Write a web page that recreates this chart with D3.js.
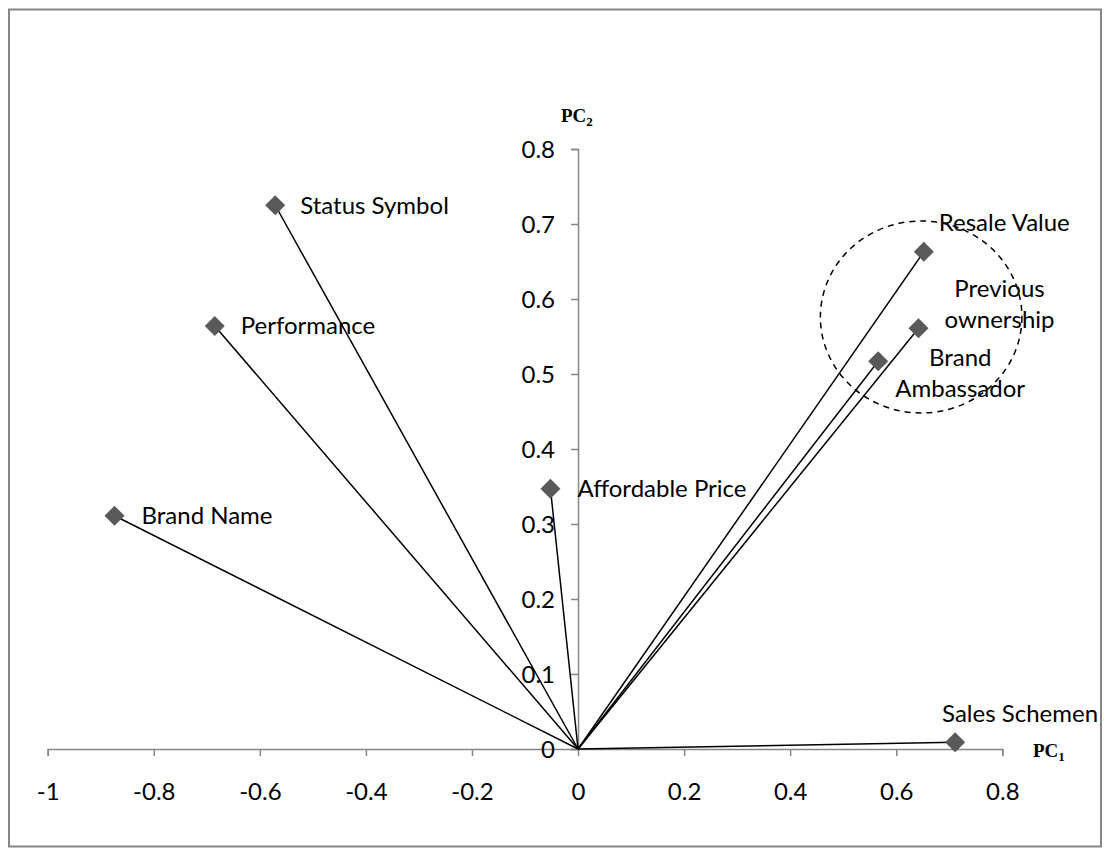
<!DOCTYPE html>
<html>
<head>
<meta charset="utf-8">
<script src="https://cdn.jsdelivr.net/npm/d3@7"></script>
<style>
  body { margin: 0; background: #fff; }
  svg text { font-family: Lato, "Open Sans", sans-serif; }
</style>
</head>
<body>
<svg id="chart" width="1109" height="856"></svg>
<script>
// Principal component loadings for each purchase factor
const variables = ["Status Symbol", "Performance", "Brand Name", "Affordable Price",
                   "Resale Value", "Previous ownership", "Brand Ambassador", "Sales Schemen"];
const pc1 = [-0.571, -0.685, -0.874, -0.052, 0.652, 0.642, 0.566, 0.711];
const pc2 = [0.725, 0.564, 0.311, 0.347, 0.663, 0.561, 0.517, 0.009];

// Axis ticks
const xTicks = [-1, -0.8, -0.6, -0.4, -0.2, 0, 0.2, 0.4, 0.6, 0.8];
const yTicks = [0, 0.1, 0.2, 0.3, 0.4, 0.5, 0.6, 0.7, 0.8];

// Cluster outline (centre and radii in loading units)
const clusterCentre = [0.647, 0.576];
const clusterRadii = [0.19, 0.128];

// Label layout: lines, anchor and pixel offset from the marker
const labelLines = [["Status Symbol"], ["Performance"], ["Brand Name"], ["Affordable Price"],
                    ["Resale Value"], ["Previous", "ownership"], ["Brand", "Ambassador"], ["Sales Schemen"]];
const labelAnchor = ["start", "start", "start", "start", "start", "middle", "middle", "start"];
const labelOffset = [[25, 0], [26, 0], [27, 0], [27, 0], [15, -29], [81, -24], [82, 12], [-13, -29]];

const svg = d3.select("#chart");
const W = 1109, H = 856;

svg.append("rect").attr("width", W).attr("height", H).attr("fill", "#fff");
svg.append("rect")
  .attr("x", 9).attr("y", 9.5).attr("width", 1092).attr("height", 837)
  .attr("fill", "none").attr("stroke", "#868686").attr("stroke-width", 2);

const x = d3.scaleLinear().domain([-1, 0.8]).range([47.7, 1002.3]);
const y = d3.scaleLinear().domain([0, 0.8]).range([749, 149]);

const fmt = d => String(+d.toFixed(1));
const axisColor = "#868686";
const fontSize = 24;

// X axis through PC2 = 0
const gx = svg.append("g").attr("transform", `translate(0,${y(0)})`)
  .call(d3.axisBottom(x).tickValues(xTicks).tickSize(7).tickSizeOuter(7).tickFormat(fmt));
gx.select(".domain").attr("stroke", axisColor).attr("stroke-width", 1.5);
gx.selectAll(".tick line").attr("stroke", axisColor).attr("stroke-width", 1.5);
gx.selectAll(".tick text").attr("y", 43).attr("dy", "0.35em")
  .attr("fill", "#000").style("font-size", fontSize + "px").style("font-family", "Lato, sans-serif");

// Y axis through PC1 = 0
const gy = svg.append("g").attr("transform", `translate(${x(0)},0)`)
  .call(d3.axisLeft(y).tickValues(yTicks).tickSize(7).tickSizeOuter(7).tickFormat(fmt));
gy.select(".domain").attr("stroke", axisColor).attr("stroke-width", 1.5);
gy.selectAll(".tick line").attr("stroke", axisColor).attr("stroke-width", 1.5);
gy.selectAll(".tick text").attr("x", -23).attr("dy", "0.35em")
  .attr("fill", "#000").style("font-size", fontSize + "px").style("font-family", "Lato, sans-serif");

const points = variables.map((v, i) => ({ name: v, x: pc1[i], y: pc2[i], i }));

// Loading vectors from the origin
svg.append("g").selectAll("line").data(points).join("line")
  .attr("x1", x(0)).attr("y1", y(0))
  .attr("x2", d => x(d.x)).attr("y2", d => y(d.y))
  .attr("stroke", "#000").attr("stroke-width", 1.5);

// Dashed outline around the resale / ownership / ambassador group
svg.append("ellipse")
  .attr("cx", x(clusterCentre[0])).attr("cy", y(clusterCentre[1]))
  .attr("rx", x(clusterRadii[0]) - x(0)).attr("ry", y(0) - y(clusterRadii[1]))
  .attr("fill", "none").attr("stroke", "#000").attr("stroke-width", 1.5)
  .attr("stroke-dasharray", "6,5");

// Diamond markers
svg.append("g").selectAll("path").data(points).join("path")
  .attr("d", d3.symbol(d3.symbolSquare, 200))
  .attr("transform", d => `translate(${x(d.x)},${y(d.y)}) rotate(45)`)
  .attr("fill", "#595959");

// Point labels
const labels = svg.append("g").selectAll("text").data(points).join("text")
  .attr("x", d => x(d.x) + labelOffset[d.i][0])
  .attr("y", d => y(d.y) + labelOffset[d.i][1])
  .attr("text-anchor", d => labelAnchor[d.i])
  .style("font-size", fontSize + "px").attr("fill", "#000");
labels.each(function (d) {
  const lines = labelLines[d.i];
  const lh = 31;
  const t = d3.select(this);
  lines.forEach((ln, k) => {
    t.append("tspan")
      .attr("x", x(d.x) + labelOffset[d.i][0])
      .attr("dy", k === 0 ? `${0.35 * fontSize - (lines.length - 1) * lh / 2}` : lh)
      .text(ln);
  });
});

// Axis titles
function axisTitle(px, py, sub) {
  const t = svg.append("text").attr("x", px).attr("y", py)
    .style("font-family", "'Liberation Serif', 'Times New Roman', serif")
    .style("font-weight", "bold").style("font-size", "19px").attr("fill", "#000");
  t.append("tspan").text("PC");
  t.append("tspan").attr("dy", 4).style("font-size", "13px").text(sub);
}
axisTitle(561, 122, "2");
axisTitle(1033, 757, "1");
</script>
</body>
</html>
